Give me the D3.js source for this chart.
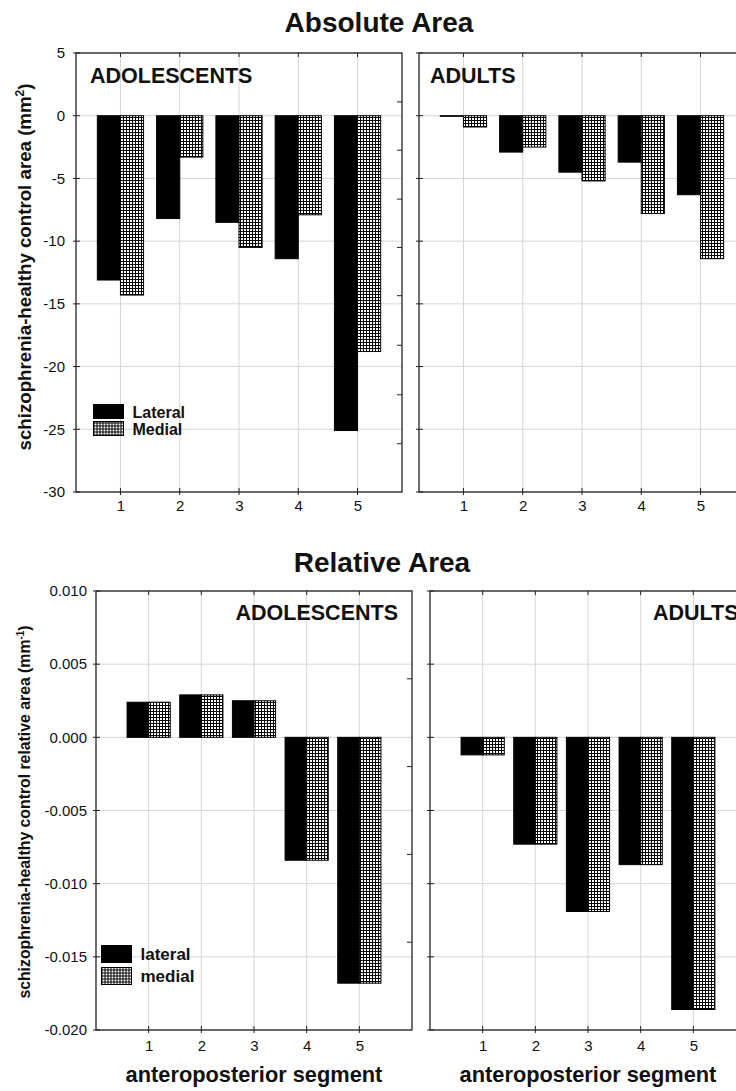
<!DOCTYPE html>
<html>
<head>
<meta charset="utf-8">
<script src="https://cdn.jsdelivr.net/npm/d3@7"></script>
<style>
  body { margin: 0; background: #fff; }
  text { font-family: "Liberation Sans", Arial, sans-serif; fill: #111; }
</style>
</head>
<body>
<script>
// segments along the anteroposterior axis
var segments = [1, 2, 3, 4, 5];

// absolute area difference (mm^2)
var absAdolLateral = [-13.1, -8.2, -8.5, -11.4, -25.1];
var absAdolMedial  = [-14.3, -3.3, -10.5, -7.9, -18.8];
var absAdultLateral = [-0.05, -2.9, -4.5, -3.7, -6.3];
var absAdultMedial  = [-0.9, -2.5, -5.2, -7.8, -11.4];

// relative area difference (mm^-1)
var relAdolLateral = [0.0024, 0.0029, 0.0025, -0.0084, -0.0168];
var relAdolMedial  = [0.0024, 0.0029, 0.0025, -0.0084, -0.0168];
var relAdultLateral = [-0.0012, -0.0073, -0.0119, -0.0087, -0.0186];
var relAdultMedial  = [-0.0012, -0.0073, -0.0119, -0.0087, -0.0186];

var absTicks = [5, 0, -5, -10, -15, -20, -25, -30];
var relTicks = [0.010, 0.005, 0.000, -0.005, -0.010, -0.015, -0.020];
// small marks on the right edge of the left panels
var absRightTicks = [1.1, -2.75, -6.65, -10.5, -14.35, -18.3, -22.25, -26.15];
var relRightTicks = [0.004, -0.002, -0.008, -0.014];

var width = 736, height = 1091;

var svg = d3.select("body")
    .append("svg")
    .attr("width", width)
    .attr("height", height);

// cross-hatch fill for the medial bars
var defs = svg.append("defs");
var pat = defs.append("pattern")
    .attr("id", "hatch")
    .attr("width", 3).attr("height", 3)
    .attr("patternUnits", "userSpaceOnUse");
pat.append("rect").attr("width", 3).attr("height", 3).attr("fill", "#fff");
pat.append("path").attr("d", "M0,0.5H3M0.5,0V3")
    .attr("stroke", "#000").attr("stroke-width", 1);

function drawPanel(p){
  var x = d3.scaleLinear().domain(p.xDomain).range([p.left, p.right]);
  var y = d3.scaleLinear().domain(p.yDomain).range([p.bottom, p.top]);
  var g = svg.append("g");

  // grid
  g.selectAll(".hgrid").data(p.yTicks).enter().append("line")
    .attr("x1", p.left).attr("x2", p.right)
    .attr("y1", function(d){ return y(d); })
    .attr("y2", function(d){ return y(d); })
    .attr("stroke", "#d6d6d6");
  g.selectAll(".vgrid").data(segments).enter().append("line")
    .attr("y1", p.top).attr("y2", p.bottom)
    .attr("x1", function(d){ return x(d); })
    .attr("x2", function(d){ return x(d); })
    .attr("stroke", "#d6d6d6");

  var bw = p.barWidth * (x(1) - x(0));

  g.selectAll(".lat").data(p.lateral).enter().append("rect")
    .attr("x", function(d, i){ return x(segments[i]) - bw; })
    .attr("y", function(d){ return y(Math.max(0, d)); })
    .attr("width", bw)
    .attr("height", function(d){ return Math.abs(y(d) - y(0)); })
    .attr("fill", "#000").attr("stroke", "#000");

  g.selectAll(".med").data(p.medial).enter().append("rect")
    .attr("x", function(d, i){ return x(segments[i]); })
    .attr("y", function(d){ return y(Math.max(0, d)); })
    .attr("width", bw)
    .attr("height", function(d){ return Math.abs(y(d) - y(0)); })
    .attr("fill", "url(#hatch)").attr("stroke", "#000");

  // frame
  g.append("rect")
    .attr("x", p.left).attr("y", p.top)
    .attr("width", p.right - p.left).attr("height", p.bottom - p.top)
    .attr("fill", "none").attr("stroke", "#222").attr("stroke-width", 1.3);

  // x axis labels
  var xa = g.append("g")
    .attr("transform", "translate(0," + p.bottom + ")")
    .call(d3.axisBottom(x).tickValues(segments).tickSize(0).tickPadding(p.xPad).tickFormat(d3.format("d")));
  xa.select(".domain").remove();
  xa.selectAll("text").style("font-size", "15px").style("font-family", "Liberation Sans, Arial");

  // tick marks along the edges
  g.selectAll(".tt").data(segments).enter().append("line")
    .attr("x1", function(d){ return x(d); }).attr("x2", function(d){ return x(d); })
    .attr("y1", p.top).attr("y2", p.top + 4)
    .attr("stroke", "#222");
  g.selectAll(".bt").data(segments).enter().append("line")
    .attr("x1", function(d){ return x(d); }).attr("x2", function(d){ return x(d); })
    .attr("y1", p.bottom - 4).attr("y2", p.bottom + 3)
    .attr("stroke", "#222");
  g.selectAll(".lt").data(p.yTicks).enter().append("line")
    .attr("x1", p.left - 3).attr("x2", p.left + 4)
    .attr("y1", function(d){ return y(d); }).attr("y2", function(d){ return y(d); })
    .attr("stroke", "#222");
  if (p.rightTicks) {
    g.selectAll(".rt").data(p.rightTicks).enter().append("line")
      .attr("x1", p.right - 5).attr("x2", p.right)
      .attr("y1", function(d){ return y(d); }).attr("y2", function(d){ return y(d); })
      .attr("stroke", "#222");
  }

  // y axis labels
  if (p.showY) {
    var ya = g.append("g")
      .attr("transform", "translate(" + p.left + ",0)")
      .call(d3.axisLeft(y).tickValues(p.yTicks).tickSize(0).tickPadding(p.yPad).tickFormat(p.fmt));
    ya.select(".domain").remove();
    ya.selectAll("text").style("font-size", "15px").style("font-family", "Liberation Sans, Arial");
  }

  // group label
  g.append("text")
    .attr("x", p.labelX).attr("y", p.labelY)
    .attr("text-anchor", p.labelAnchor)
    .style("font-size", "21.5px").style("font-weight", "bold")
    .text(p.label);
}

var absFmt = function(d){ return String(d); };
var relFmt = function(d){ return d.toFixed(3); };

drawPanel({left: 76, right: 402, top: 53, bottom: 492,
  xDomain: [0.25, 5.75], yDomain: [-30, 5], yTicks: absTicks, fmt: absFmt,
  lateral: absAdolLateral, medial: absAdolMedial, barWidth: 0.39,
  showY: true, yPad: 11, xPad: 8, rightTicks: absRightTicks,
  label: "ADOLESCENTS", labelX: 90, labelY: 83, labelAnchor: "start"});

drawPanel({left: 419, right: 745, top: 53, bottom: 492,
  xDomain: [0.25, 5.75], yDomain: [-30, 5], yTicks: absTicks, fmt: absFmt,
  lateral: absAdultLateral, medial: absAdultMedial, barWidth: 0.39,
  showY: false, xPad: 8,
  label: "ADULTS", labelX: 430, labelY: 83, labelAnchor: "start"});

drawPanel({left: 96, right: 412, top: 591, bottom: 1030,
  xDomain: [0, 6], yDomain: [-0.020, 0.010], yTicks: relTicks, fmt: relFmt,
  lateral: relAdolLateral, medial: relAdolMedial, barWidth: 0.41,
  showY: true, yPad: 9, xPad: 10, rightTicks: relRightTicks,
  label: "ADOLESCENTS", labelX: 398, labelY: 620, labelAnchor: "end"});

drawPanel({left: 430, right: 746, top: 591, bottom: 1030,
  xDomain: [0, 6], yDomain: [-0.020, 0.010], yTicks: relTicks, fmt: relFmt,
  lateral: relAdultLateral, medial: relAdultMedial, barWidth: 0.41,
  showY: false, xPad: 10,
  label: "ADULTS", labelX: 653, labelY: 620, labelAnchor: "start"});

// titles
svg.append("text").attr("x", 379).attr("y", 32).attr("text-anchor", "middle")
  .style("font-size", "28px").style("font-weight", "bold").text("Absolute Area");
svg.append("text").attr("x", 382).attr("y", 572).attr("text-anchor", "middle")
  .style("font-size", "28px").style("font-weight", "bold").text("Relative Area");

// y axis titles
var yt1 = svg.append("text")
  .attr("transform", "translate(31,267) rotate(-90)")
  .attr("text-anchor", "middle")
  .style("font-size", "18.7px").style("font-weight", "bold");
yt1.append("tspan").text("schizophrenia-healthy control area (mm");
yt1.append("tspan").attr("baseline-shift", "7px").style("font-size", "12px").text("2");
yt1.append("tspan").text(")");

var yt2 = svg.append("text")
  .attr("transform", "translate(30,812) rotate(-90)")
  .attr("text-anchor", "middle")
  .style("font-size", "15.8px").style("font-weight", "bold");
yt2.append("tspan").text("schizophrenia-healthy control relative area (mm");
yt2.append("tspan").attr("baseline-shift", "6px").style("font-size", "10px").text("-1");
yt2.append("tspan").text(")");

// x axis titles
[254, 588].forEach(function(cx){
  svg.append("text").attr("x", cx).attr("y", 1082).attr("text-anchor", "middle")
    .style("font-size", "21.8px").style("font-weight", "bold").text("anteroposterior segment");
});

// legends
function legend(x0, y0, sw, sh, gap, names, fs, lift){
  var lg = svg.append("g").attr("transform", "translate(" + x0 + "," + y0 + ")");
  lg.append("rect").attr("width", sw).attr("height", sh).attr("fill", "#000").attr("stroke", "#000");
  lg.append("rect").attr("y", sh + gap).attr("width", sw).attr("height", sh)
    .attr("fill", "url(#hatch)").attr("stroke", "#000");
  lg.append("text").attr("x", sw + 9).attr("y", sh - lift).style("font-size", fs + "px")
    .style("font-weight", "bold").text(names[0]);
  lg.append("text").attr("x", sw + 9).attr("y", 2 * sh + gap - lift).style("font-size", fs + "px")
    .style("font-weight", "bold").text(names[1]);
}
legend(93.5, 404.5, 30, 14, 3, ["Lateral", "Medial"], 16, 1);
legend(101.5, 945.5, 30, 17, 5, ["lateral", "medial"], 17, 3);
</script>
</body>
</html>
